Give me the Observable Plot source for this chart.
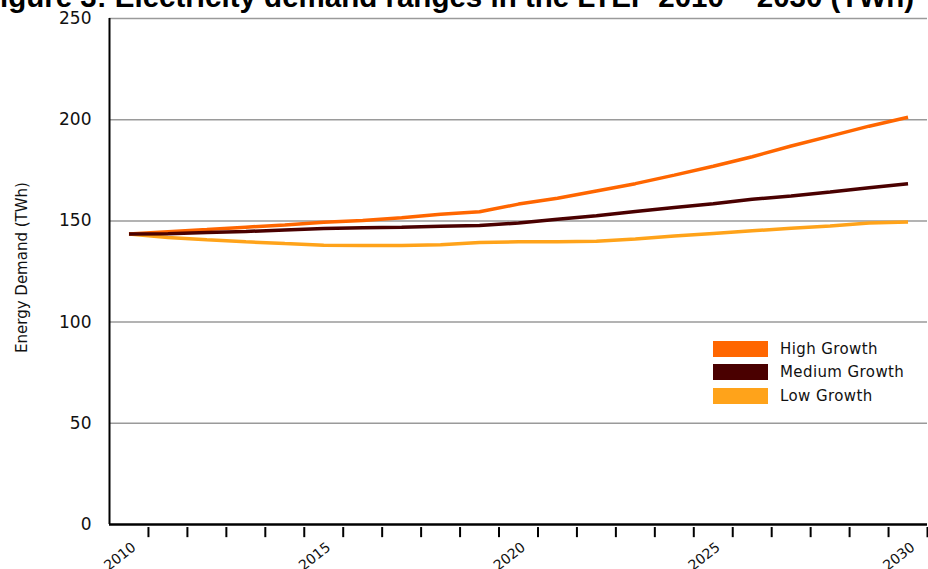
<!DOCTYPE html>
<html><head><meta charset="utf-8">
<script src="https://cdn.jsdelivr.net/npm/d3@7"></script>
<script src="https://cdn.jsdelivr.net/npm/@observablehq/plot@0.6"></script>
<style>
html,body{margin:0;padding:0;background:#fff;overflow:hidden;width:928px;height:569px}
#wrap{position:relative;width:928px;height:569px;overflow:hidden}
#title{position:absolute;white-space:nowrap;font-family:"Liberation Sans",Arial,sans-serif;font-weight:bold;color:#000;line-height:1;z-index:2}
#chart{position:absolute;left:0;top:0}
#legend{position:absolute;left:713px;top:337px;font-family:"DejaVu Sans",sans-serif;font-size:15px;letter-spacing:0.4px;color:#111;z-index:2}
.row{display:flex;align-items:center;height:23.5px}
.sw{width:55px;height:16px;margin-right:12px}
</style></head>
<body><div id="wrap"><div id="title"></div><div id="chart"></div><div id="legend"></div></div>
<script>
const titleText = "Figure 3: Electricity demand ranges in the LTEP 2010 – 2030 (TWh)";
const yTitle = "Energy Demand (TWh)";
const years = [2010,2011,2012,2013,2014,2015,2016,2017,2018,2019,2020,2021,2022,2023,2024,2025,2026,2027,2028,2029,2030];
const high   = [143.5,144.7,145.7,146.9,148.0,149.3,150.2,151.5,153.3,154.5,158.3,161.2,164.8,168.4,172.6,177.0,181.7,187.0,191.9,196.8,201.2];
const medium = [143.5,143.6,144.3,144.8,145.5,146.2,146.6,146.9,147.3,147.7,149.0,150.8,152.5,154.6,156.6,158.5,160.7,162.3,164.3,166.4,168.4];
const low    = [143.5,141.8,140.7,139.7,138.8,138.0,137.9,137.9,138.2,139.3,139.7,139.7,139.9,141.1,142.5,143.8,145.1,146.4,147.5,149.0,149.5];
const seriesNames = ["High Growth","Medium Growth","Low Growth"];
const seriesColors = ["#ff6600","#4a0000","#ffa31a"];
const yTicks = [0,50,100,150,200,250];
const gridValues = [50,100,150,200,250];
const xLabels = [2010,2015,2020,2025,2030];
const tickBoundaries = [2010.5,2011.5,2012.5,2013.5,2014.5,2015.5,2016.5,2017.5,2018.5,2019.5,2020.5,2021.5,2022.5,2023.5,2024.5,2025.5,2026.5,2027.5,2028.5,2029.5,2030.5];

const valuesBy = {"High Growth": high, "Medium Growth": medium, "Low Growth": low};
const drawOrder = ["Low Growth","High Growth","Medium Growth"];
const rows = [];
drawOrder.forEach(name => valuesBy[name].forEach((v,i) => rows.push({year: years[i], value: v, series: name})));

const chart = Plot.plot({
  width: 928, height: 569,
  marginTop: 18, marginBottom: 45, marginLeft: 109, marginRight: 1,
  x: {domain: [2009.5, 2030.5], axis: null},
  y: {domain: [0, 250], axis: null},
  color: {domain: seriesNames, range: seriesColors},
  style: {fontFamily: "'DejaVu Sans', sans-serif", background: "#fff", overflow: "visible"},
  marks: [
    Plot.ruleY(gridValues, {stroke: "#9a9a9a", strokeWidth: 1.5}),
    Plot.line(rows, {x: "year", y: "value", z: "series", stroke: "series", strokeWidth: 3.5, strokeLinejoin: "miter", strokeLinecap: "butt"}),
    Plot.ruleX([2009.5], {stroke: "#000", strokeWidth: 2}),
    Plot.ruleY([0], {stroke: "#000", strokeWidth: 2.5}),
    Plot.ruleX(tickBoundaries, {y1: -1.5, y2: -6.5, stroke: "#000", strokeWidth: 2}),
    Plot.text(yTicks, {x: 2009.5, y: d => d, text: d => String(d), textAnchor: "end", dx: -18, fontSize: 17, fill: "#111", ariaLabel: "ytick"}),
    Plot.text(xLabels, {x: d => d, y: 0, text: d => String(d), rotate: -38, textAnchor: "end", dx: 5, dy: 21, fontSize: 14, fill: "#111", ariaLabel: "xlabel"}),
    Plot.text([yTitle], {frameAnchor: "left", rotate: -90, textAnchor: "middle", dx: -87, dy: -4, fontSize: 15, fill: "#111"})
  ]
});
d3.select(chart).selectAll('g[aria-label="ytick"] text').style("letter-spacing", "4px");
d3.select(chart).selectAll('g[aria-label="xlabel"] text').style("letter-spacing", "2px");
document.getElementById("chart").appendChild(chart);

// legend
const legend = document.getElementById("legend");
seriesNames.forEach((n,i) => {
  const r = document.createElement("div"); r.className = "row";
  const s = document.createElement("div"); s.className = "sw"; s.style.background = seriesColors[i];
  const t = document.createElement("span"); t.textContent = n;
  r.appendChild(s); r.appendChild(t); legend.appendChild(r);
});

// title, clipped at the top-left like the reference
const t = document.getElementById("title");
t.textContent = titleText;
const ctx = document.createElement("canvas").getContext("2d");
ctx.font = 'bold 24px "Liberation Sans"';
const wF = ctx.measureText("F").width;
const wRest = ctx.measureText(titleText.slice(1)).width;
const fs = 24 * 915 / wRest;
t.style.fontSize = fs + "px";
t.style.left = (-wF * fs / 24) + "px";
t.style.top = (9 - 0.9 * fs) + "px";
</script>
</body></html>
